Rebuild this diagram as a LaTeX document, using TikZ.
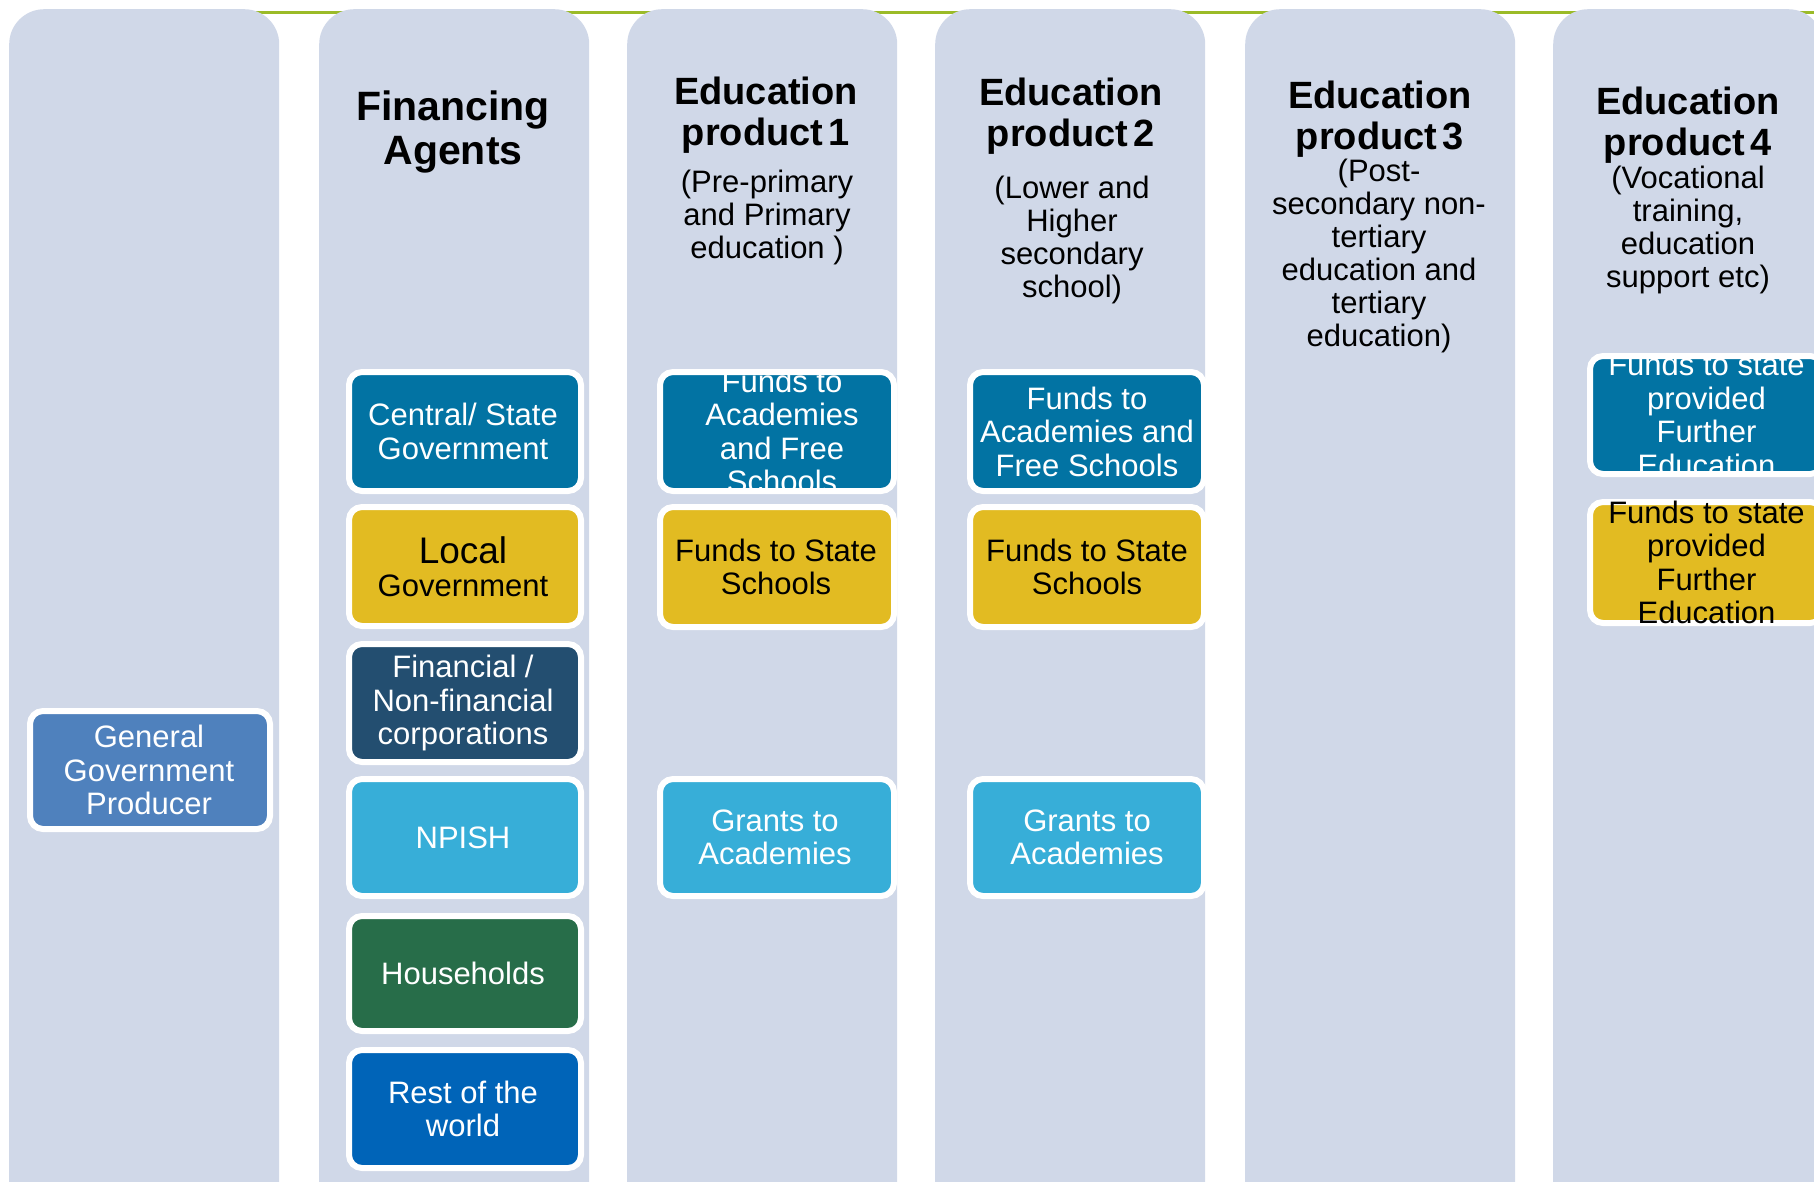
\documentclass[tikz,border=0pt]{standalone}
\usepackage{fontspec}
\setmainfont{Liberation Sans}
\definecolor{colbg}{RGB}{208,216,232}
\definecolor{cblue}{RGB}{2,115,163}
\definecolor{cyellow}{RGB}{226,187,34}
\definecolor{cnavy}{RGB}{35,78,112}
\definecolor{csky}{RGB}{55,174,216}
\definecolor{cgreen}{RGB}{39,109,73}
\definecolor{croyal}{RGB}{0,100,184}
\definecolor{cggp}{RGB}{79,129,189}
\definecolor{cline}{RGB}{155,187,40}
\tikzset{
 colbox/.style={fill=colbg, rounded corners=35, inner sep=0, minimum width=270, minimum height=1250, anchor=north west},
 boxshape/.style={draw=white, line width=6, rounded corners=13, inner sep=0},
 boxtext/.style={align=center, inner sep=0, font=\fontsize{31}{33.5}\selectfont},
 ttl/.style={align=center, inner sep=0, font=\bfseries\fontsize{38}{41}\selectfont},
 subttl/.style={align=center, inner sep=0, font=\fontsize{31}{33}\selectfont},
}
\newcommand{\mybox}[9]{%
 \node[boxshape, fill=#6, minimum width={#4-#2-6}, minimum height={#5-#3-6}] (#1) at ({(#2+#4)/2},{(#3+#5)/2}) {};
 \begin{scope}
 \clip (#2,#3) rectangle (#4,#5);
 \node[boxtext, text=#7] (#1t) at ([xshift=#9]#1.center) {#8};
 \end{scope}}
\begin{document}
\begin{tikzpicture}[x=1pt,y=-1pt]
\clip (0,0) rectangle (1814,1181);
\fill[white] (0,0) rectangle (1814,1181);
\coordinate (gl1) at (200,12);
\coordinate (gl2) at (1814,12);
\draw[cline, line width=3] (gl1) -- (gl2);
\node[colbox] (c1) at (9,9) {};
\node[colbox] (c2) at (319,9) {};
\node[colbox] (c3) at (627,9) {};
\node[colbox] (c4) at (935,9) {};
\node[colbox] (c5) at (1245,9) {};
\node[colbox] (c6) at (1553,9) {};
% titles
\node[ttl, font=\bfseries\fontsize{41}{44}\selectfont] (t2) at (453,132) {Financing\\Agents};
\node[ttl] (t3) at (766,115) {Education\\product\hspace{0.15em}1};
\node[subttl] (s3) at (767,217.5) {(Pre-primary\\and Primary\\education )};
\node[ttl] (t4) at (1071,116) {Education\\product\hspace{0.15em}2};
\node[subttl] (s4) at (1072,240) {(Lower and\\Higher\\secondary\\school)};
\node[ttl] (t5) at (1380,119) {Education\\product\hspace{0.15em}3};
\node[subttl] (s5) at (1379,256) {(Post-\\secondary non-\\tertiary\\education and\\tertiary\\education)};
\node[ttl] (t6) at (1688,125) {Education\\product\hspace{0.15em}4};
\node[subttl] (s6) at (1688,230) {(Vocational\\training,\\education\\support etc)};
% boxes
\mybox{cs}{346}{369}{584}{494}{cblue}{white}{Central/ State\\Government}{-2}
\mybox{lg}{346}{504}{584}{629}{cyellow}{black}{\fontsize{37}{41}\selectfont Local\\\fontsize{31}{41}\selectfont Government}{-2}
\mybox{fc}{346}{641}{584}{765}{cnavy}{white}{Financial /\\Non-financial\\corporations}{-2}
\mybox{np}{346}{776}{584}{899}{csky}{white}{NPISH}{-2}
\mybox{hh}{346}{913}{584}{1034}{cgreen}{white}{Households}{-2}
\mybox{rw}{346}{1047}{584}{1171}{croyal}{white}{Rest of the\\world}{-2}
\mybox{gg}{27}{708}{273}{832}{cggp}{white}{General\\Government\\Producer}{-1}
\mybox{aa}{657}{369}{897}{494}{cblue}{white}{Funds to\\Academies\\and Free\\Schools}{5}
\mybox{sa}{657}{504}{897}{630}{cyellow}{black}{Funds to State\\Schools}{-1}
\mybox{ga}{657}{776}{897}{899}{csky}{white}{Grants to\\Academies}{-2}
\mybox{ab}{967}{369}{1207}{494}{cblue}{white}{Funds to\\Academies and\\Free Schools}{0}
\mybox{sb}{967}{504}{1207}{630}{cyellow}{black}{Funds to State\\Schools}{0}
\mybox{gb}{967}{776}{1207}{899}{csky}{white}{Grants to\\Academies}{0}
\mybox{fd}{1587}{353}{1826}{477}{cblue}{white}{Funds to state\\provided\\Further\\Education}{0}
\mybox{yd}{1587}{499}{1826}{626}{cyellow}{black}{Funds to state\\provided\\Further\\Education}{0}
\end{tikzpicture}
\end{document}
